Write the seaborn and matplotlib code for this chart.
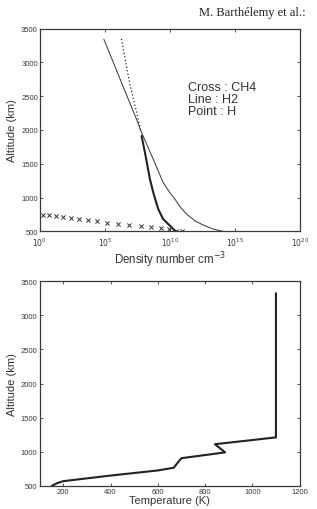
import matplotlib

matplotlib.use("Agg")
import matplotlib.pyplot as plt
import pandas as pd
import seaborn as sns

# CH4 (crosses)
ch4_alt = [745, 736, 721, 706, 692, 677, 662, 647, 626, 608, 593, 578, 558, 544, 529, 509, 500]
ch4_dens = [1.6e0, 5.2e0, 1.7e1, 5.6e1, 2.3e2, 1.0e3, 4.7e3, 2.3e4, 1.5e5,
            1.0e6, 7.4e6, 5.9e7, 3.5e8, 1.9e9, 8.3e9, 2.8e10, 8.9e10]

# H2 (thin line)
h2_alt = [3340, 2153, 1961, 1567, 1394, 1223, 1084, 977, 854, 755, 656, 593, 534, 509, 500]
h2_dens = [8.3e4, 2.75e7, 6.6e7, 5.2e8, 1.26e9, 3.0e9, 8.9e9, 2.4e10, 6.6e10,
           1.9e11, 8.3e11, 3.6e12, 2.1e13, 7.1e13, 1.26e14]

# H (points above ~1950 km, dense line below)
h_pts_alt = [3338, 2673, 2206, 1985]
h_pts_dens = [1.9e6, 8.3e6, 3.2e7, 5.6e7]
h_alt = [1911, 1666, 1272, 1075, 829, 681, 583, 509, 500]
h_dens = [6.6e7, 1.2e8, 2.9e8, 5.2e8, 1.26e9, 3.0e9, 1.0e10, 2.4e10, 2.9e10]

# temperature profile
temp_alt = [500, 540, 568, 650, 725, 765, 830, 905, 990, 1110, 1210, 3325]
temp_k = [152, 175, 200, 400, 600, 668, 682, 700, 885, 842, 1100, 1100]

alt_ticks = [500, 1000, 1500, 2000, 2500, 3000, 3500]
dens_ticks = [1e0, 1e5, 1e10, 1e15, 1e20]
dens_labels = [r"$10^{0}$", r"$10^{5}$", r"$10^{10}$", r"$10^{15}$", r"$10^{20}$"]
temp_ticks = [200, 400, 600, 800, 1000, 1200]

sns.set_style("ticks")
plt.rcParams["font.family"] = ["Liberation Sans", "DejaVu Sans"]
plt.rcParams["xtick.direction"] = "in"
plt.rcParams["ytick.direction"] = "in"

axis_col = "#3a3a3a"
text_col = "#333333"
line_col = "#222222"

fig = plt.figure(figsize=(3.17, 5.10), dpi=100)
ax1 = fig.add_axes([0.126, 0.5445, 0.820, 0.3976])
ax2 = fig.add_axes([0.125, 0.0455, 0.820, 0.401])

fig.text(0.628, 0.974, "M. Barthélemy et al.:", family=["Liberation Serif"],
         fontsize=9, color="#222222", va="center", ha="left")

# top panel
h2 = pd.DataFrame({"alt": h2_alt, "dens": h2_dens})
h_low = pd.DataFrame({"alt": h_alt, "dens": h_dens})
h_up = pd.DataFrame({"alt": h_pts_alt, "dens": h_pts_dens})
ch4 = pd.DataFrame({"alt": ch4_alt, "dens": ch4_dens})

sns.lineplot(data=h2, x="dens", y="alt", sort=False, estimator=None,
             color="#333333", linewidth=0.7, ax=ax1)
sns.lineplot(data=h_low, x="dens", y="alt", sort=False, estimator=None,
             color=line_col, linewidth=1.5, ax=ax1)
ax1.plot(h_up["dens"], h_up["alt"], color=line_col, linewidth=1.1,
         linestyle=(0, (0.01, 2.3)), dash_capstyle="round")
sns.scatterplot(data=ch4, x="dens", y="alt", marker="x", s=9, color="#333333",
                linewidth=0.7, ax=ax1)

ax1.set_xscale("log")
ax1.set_xlim(1e0, 1e20)
ax1.set_ylim(500, 3500)
ax1.set_xticks(dens_ticks)
ax1.set_xticklabels(dens_labels)
ax1.minorticks_off()
ax1.set_yticks(alt_ticks)
ax1.set_xlabel(r"Density number cm$^{-3}$", fontsize=8.3, color=text_col, labelpad=1)
ax1.set_ylabel("Altitude (km)", fontsize=8, color=text_col, labelpad=3)
ax1.text(2.4e11, 2730, "Cross : CH4\nLine : H2\nPoint : H", fontsize=9,
         color=text_col, va="top", ha="left", linespacing=1.0)

# bottom panel
temp = pd.DataFrame({"alt": temp_alt, "T": temp_k})
sns.lineplot(data=temp, x="T", y="alt", sort=False, estimator=None,
             color=line_col, linewidth=1.5, ax=ax2)
ax2.set_xlim(100, 1200)
ax2.set_ylim(500, 3500)
ax2.set_xticks(temp_ticks)
ax2.set_yticks(alt_ticks)
ax2.set_xlabel("Temperature (K)", fontsize=8, color=text_col, labelpad=0)
ax2.set_ylabel("Altitude (km)", fontsize=8, color=text_col, labelpad=3)

for ax in (ax1, ax2):
    ax.tick_params(axis="both", which="both", top=True, right=True, length=2.5,
                   width=0.6, labelsize=5.5, colors=axis_col, pad=1.5)
    for side in ax.spines.values():
        side.set_visible(True)
        side.set_linewidth(0.9)
        side.set_color(axis_col)
ax1.tick_params(axis="x", pad=3)

fig.savefig("out.png", dpi=100)
